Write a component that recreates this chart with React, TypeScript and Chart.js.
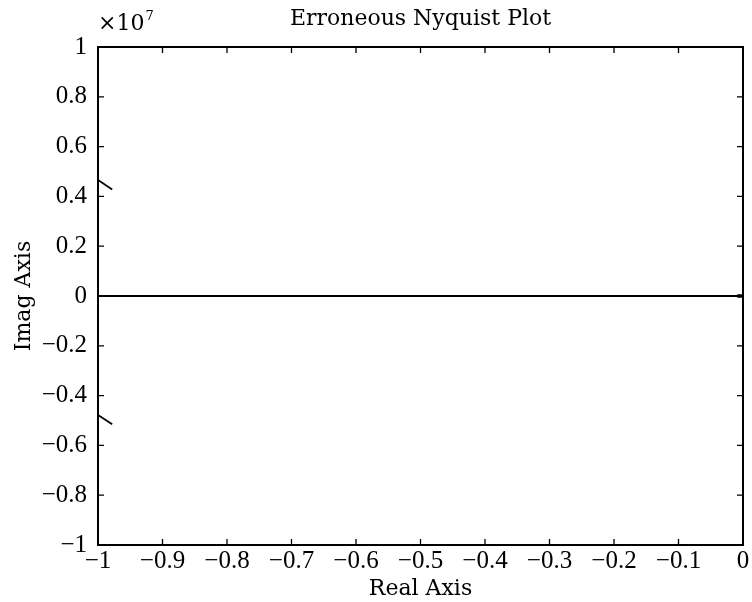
import React, { useEffect, useRef } from "react";
import { Chart, registerables } from "chart.js";

Chart.register(...registerables);

// Data (values in units of 1e7)
const mainReal = [-1, 0];
const mainImag = [0, 0];
const upperReal = [-1, -0.978];
const upperImag = [0.466, 0.428];
const lowerReal = [-1, -0.978];
const lowerImag = [-0.478, -0.515];
const endReal = [-0.009, 0];
const endImag = [0, 0];

const xTicks = [-1, -0.9, -0.8, -0.7, -0.6, -0.5, -0.4, -0.3, -0.2, -0.1, 0];
const yTicks = [-1, -0.8, -0.6, -0.4, -0.2, 0, 0.2, 0.4, 0.6, 0.8, 1];
const titleText = "Erroneous Nyquist Plot";
const xLabel = "Real Axis";
const yLabel = "Imag Axis";
const exponentBase = "×10";
const exponentPower = "7";

const fmt = (v: number) => {
  const r = Math.round(v * 10) / 10;
  if (r === 0) return "0";
  const s = Math.abs(r).toString();
  return (r < 0 ? "\u2212" : "") + s;
};

const toPts = (xs: number[], ys: number[]) => xs.map((x, i) => ({ x, y: ys[i] }));

const SERIF_T = "'Liberation Serif', 'Times New Roman', serif";
const SERIF_D = "'DejaVu Serif', serif";

const boxPlugin = {
  id: "boxTicks",
  afterDraw(chart: any) {
    const { ctx, chartArea } = chart;
    const xs = chart.scales.x;
    const ys = chart.scales.y;
    const tl = 6;
    ctx.save();
    ctx.strokeStyle = "#000";
    ctx.lineWidth = 2;
    ctx.strokeRect(chartArea.left, chartArea.top, chartArea.right - chartArea.left, chartArea.bottom - chartArea.top);
    ctx.lineWidth = 1.3;
    ctx.beginPath();
    xTicks.forEach((v) => {
      const px = xs.getPixelForValue(v);
      ctx.moveTo(px, chartArea.bottom);
      ctx.lineTo(px, chartArea.bottom - tl);
      ctx.moveTo(px, chartArea.top);
      ctx.lineTo(px, chartArea.top + tl);
    });
    yTicks.forEach((v) => {
      const py = ys.getPixelForValue(v);
      ctx.moveTo(chartArea.left, py);
      ctx.lineTo(chartArea.left + tl, py);
      ctx.moveTo(chartArea.right, py);
      ctx.lineTo(chartArea.right - tl, py);
    });
    ctx.stroke();
    // exponent label
    ctx.fillStyle = "#000";
    ctx.textBaseline = "alphabetic";
    ctx.textAlign = "left";
    ctx.font = `22px ${SERIF_D}`;
    const bx = chartArea.left;
    const by = 30;
    ctx.fillText(exponentBase, bx, by);
    const w = ctx.measureText(exponentBase).width;
    ctx.font = `13px ${SERIF_D}`;
    ctx.fillText(exponentPower, bx + w + 1, by - 10);
    ctx.restore();
  },
};

export default function App() {
  const ref = useRef<HTMLCanvasElement | null>(null);
  useEffect(() => {
    if (!ref.current) return;
    const lineStyle = {
      borderColor: "#000",
      backgroundColor: "#000",
      borderWidth: 1.8,
      pointRadius: 0,
      showLine: true,
      fill: false,
      tension: 0,
    };
    const chart = new Chart(ref.current, {
      type: "scatter",
      data: {
        datasets: [
          { data: toPts(mainReal, mainImag), ...lineStyle },
          { data: toPts(upperReal, upperImag), ...lineStyle },
          { data: toPts(lowerReal, lowerImag), ...lineStyle },
          { data: toPts(endReal, endImag), ...lineStyle, borderWidth: 3.5 },
        ],
      },
      options: {
        responsive: false,
        animation: false,
        devicePixelRatio: 1,
        layout: { padding: { left: 0, right: 9, top: 0, bottom: 0 } },
        plugins: {
          legend: { display: false },
          tooltip: { enabled: false },
          title: {
            display: true,
            text: titleText,
            fullSize: false,
            color: "#000",
            font: { family: SERIF_D, size: 22, weight: "normal" },
            padding: { top: 6, bottom: 14.6 },
          },
        },
        scales: {
          x: {
            type: "linear",
            min: -1,
            max: 0,
            afterFit: (s: any) => {
              s.height = 57;
              s.paddingLeft = 0;
              s.paddingRight = 0;
            },
            afterBuildTicks: (s: any) => {
              s.ticks = xTicks.map((v) => ({ value: v }));
            },
            grid: { display: false, drawTicks: false },
            border: { display: false },
            ticks: {
              autoSkip: false,
              maxRotation: 0,
              padding: 1,
              color: "#000",
              font: { family: SERIF_T, size: 25 },
              callback: (v: any) => fmt(Number(v)),
            },
            title: {
              display: true,
              text: xLabel,
              color: "#000",
              font: { family: SERIF_D, size: 22 },
              padding: { top: 0, bottom: 0 },
            },
          },
          y: {
            type: "linear",
            min: -1,
            max: 1,
            afterFit: (s: any) => {
              s.width = 98;
              s.paddingTop = 0;
              s.paddingBottom = 0;
            },
            afterBuildTicks: (s: any) => {
              s.ticks = yTicks.map((v) => ({ value: v }));
            },
            grid: { display: false, drawTicks: false },
            border: { display: false },
            ticks: {
              autoSkip: false,
              padding: 11,
              color: "#000",
              font: { family: SERIF_T, size: 25 },
              callback: (v: any) => fmt(Number(v)),
            },
            title: {
              display: true,
              text: yLabel,
              color: "#000",
              font: { family: SERIF_D, size: 22 },
              padding: { top: 11, bottom: 0 },
            },
          },
        },
      },
      plugins: [boxPlugin],
    } as any);
    return () => chart.destroy();
  }, []);
  return (
    <div style={{ position: "absolute", left: 0, top: 0, width: 752, height: 602, background: "#fff" }}>
      <canvas ref={ref} width={752} height={602} style={{ width: 752, height: 602, display: "block" }} />
    </div>
  );
}
